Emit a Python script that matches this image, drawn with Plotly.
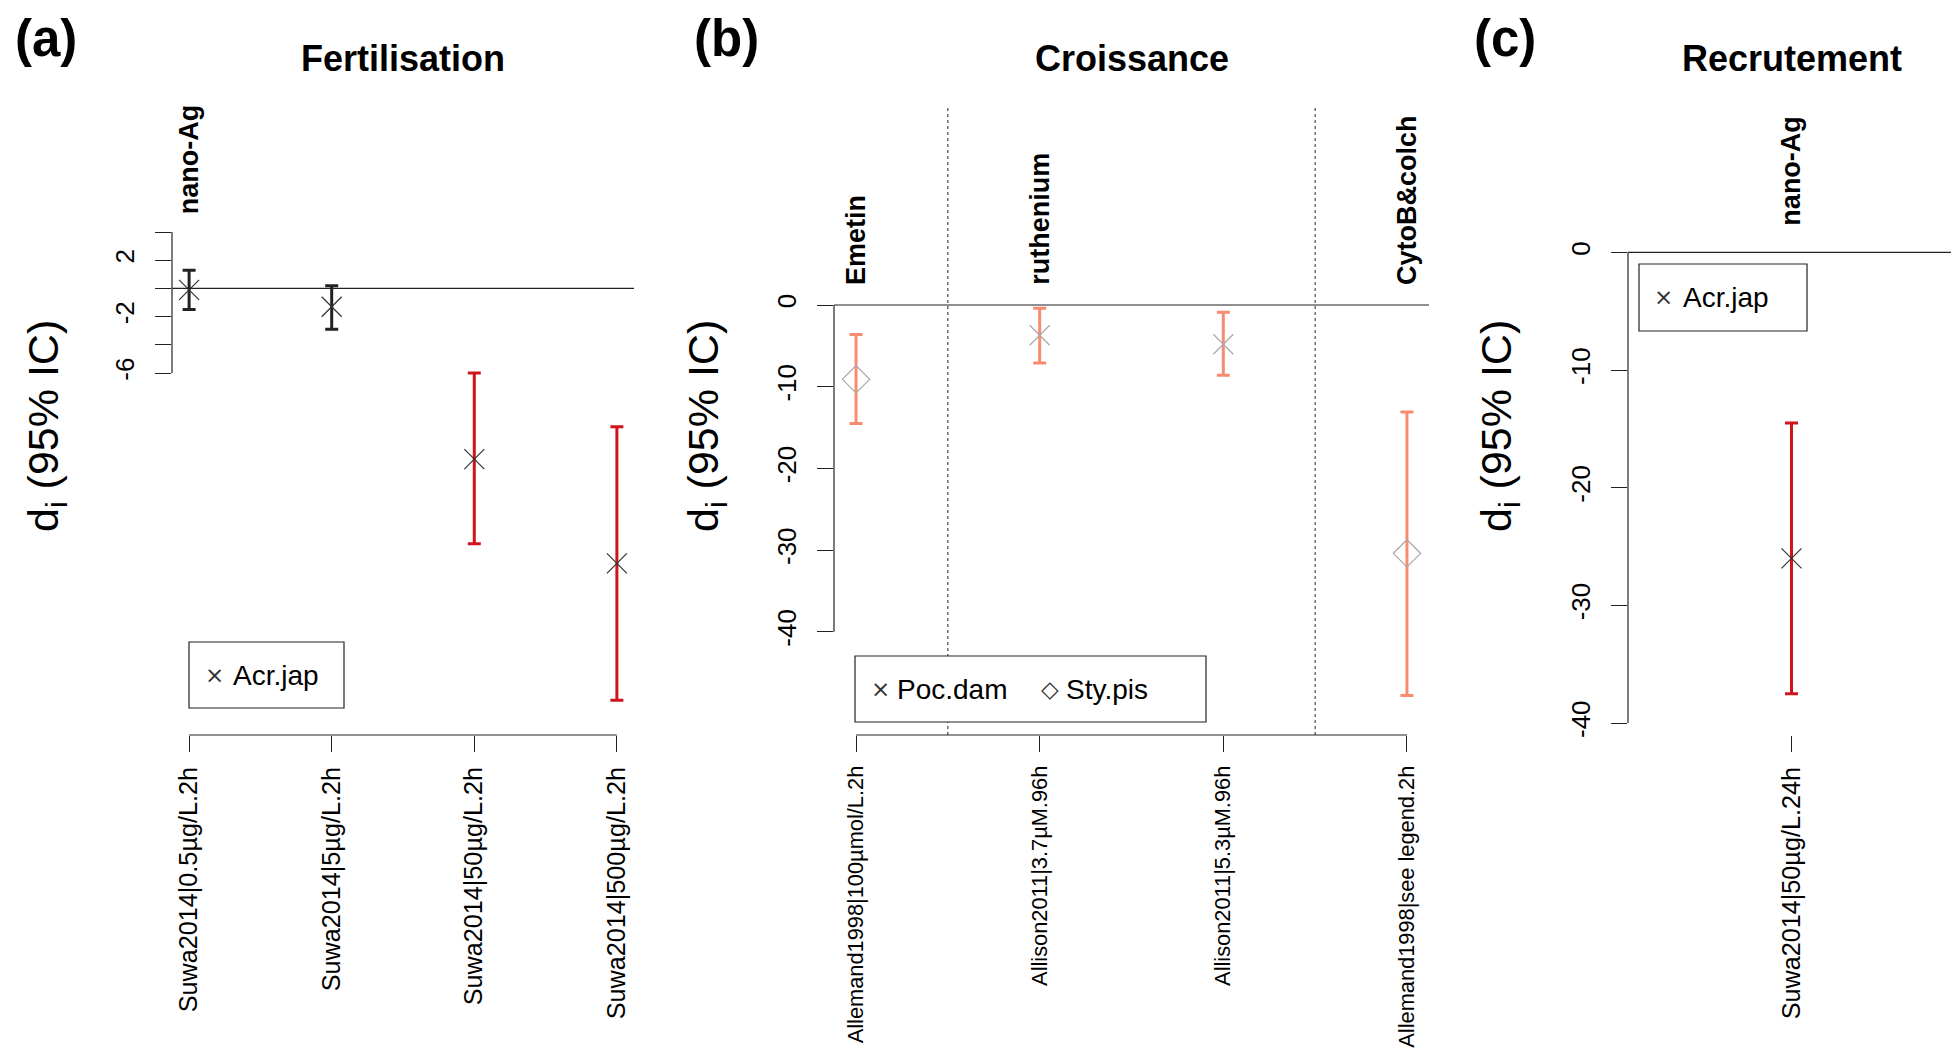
import plotly.graph_objects as go

W, H = 1959, 1051
PAGE_OFFSET = 8  # default body margin of the written page
FONT = "Liberation Sans, Arial, Helvetica, sans-serif"
INK = "#222222"
RED = "#D0141E"
SALMON = "#F98B72"

# (a) Fertilisation
fert_labels = ["Suwa2014|0.5µg/L.2h", "Suwa2014|5µg/L.2h",
               "Suwa2014|50µg/L.2h", "Suwa2014|500µg/L.2h"]
fert_treat = ["nano-Ag", "nano-Ag", "nano-Ag", "nano-Ag"]
fert_species = ["Acr.jap", "Acr.jap", "Acr.jap", "Acr.jap"]
fert_est = [-0.1, -1.3, -12.1, -19.5]
fert_lo = [-1.5, -2.9, -18.1, -29.2]
fert_hi = [1.3, 0.2, -6.0, -9.8]
fert_yticks = [4, 2, 0, -2, -4, -6]
fert_yticktext = ["", "2", "", "-2", "", "-6"]

# (b) Croissance
crois_labels = ["Allemand1998|100µmol/L.2h", "Allison2011|3.7µM.96h",
                "Allison2011|5.3µM.96h", "Allemand1998|see legend.2h"]
crois_treat = ["Emetin", "ruthenium", "ruthenium", "CytoB&colch"]
crois_species = ["Sty.pis", "Poc.dam", "Poc.dam", "Sty.pis"]
crois_est = [-9.1, -3.7, -4.8, -30.4]
crois_lo = [-14.5, -7.1, -8.6, -47.8]
crois_hi = [-3.6, -0.4, -0.9, -13.1]
crois_yticks = [0, -10, -20, -30, -40]
crois_yticktext = ["0", "-10", "-20", "-30", "-40"]

# (c) Recrutement
recr_labels = ["Suwa2014|50µg/L.24h"]
recr_treat = ["nano-Ag"]
recr_species = ["Acr.jap"]
recr_est = [-26.0]
recr_lo = [-37.5]
recr_hi = [-14.5]
recr_yticks = [0, -10, -20, -30, -40]
recr_yticktext = ["0", "-10", "-20", "-30", "-40"]

SYMBOLS = {"Acr.jap": "x-thin-open", "Poc.dam": "x-thin-open", "Sty.pis": "diamond-open"}
SIZES = {"x-thin-open": 20, "diamond-open": 21}


def px(x):
    return (x - PAGE_OFFSET) / W


def py(y):
    return 1 - (y - PAGE_OFFSET) / H


PLOT_TOP, PLOT_BOTTOM = 117, 735

panels = [
    dict(letter="(a)", letter_x=46, title="Fertilisation",
         labels=fert_labels, treat=fert_treat, species=fert_species,
         est=fert_est, lo=fert_lo, hi=fert_hi,
         yticks=fert_yticks, yticktext=fert_yticktext, yrange=[-31.67, 12.16],
         xdom=(172, 634), xpad=0.12, ytitle_x=46, treat_y=5.1, xfont=25.2,
         sig=RED, ns=INK, mcolor="#333333",
         legend=dict(box=(189, 642, 344, 708), items=[("×", 214, "Acr.jap", 231)])),
    dict(letter="(b)", letter_x=726, title="Croissance",
         labels=crois_labels, treat=crois_treat, species=crois_species,
         est=crois_est, lo=crois_lo, hi=crois_hi,
         yticks=crois_yticks, yticktext=crois_yticktext, yrange=[-52.63, 23.01],
         xdom=(834, 1429), xpad=0.12, ytitle_x=706, treat_y=2.2, xfont=21.8,
         sig=SALMON, ns=SALMON, mcolor="#a8a8a8",
         legend=dict(box=(855, 656, 1206, 722),
                     items=[("×", 880, "Poc.dam", 895), ("◇", 1050, "Sty.pis", 1064)])),
    dict(letter="(c)", letter_x=1505, title="Recrutement",
         labels=recr_labels, treat=recr_treat, species=recr_species,
         est=recr_est, lo=recr_lo, hi=recr_hi,
         yticks=recr_yticks, yticktext=recr_yticktext, yrange=[-41.01, 11.50],
         xdom=(1628, 1955), xpad=0.4, ytitle_x=1499, treat_y=2.1, xfont=25.2,
         sig=RED, ns=INK, mcolor="#333333",
         legend=dict(box=(1639, 264, 1807, 331), items=[("×", 1663, "Acr.jap", 1681)])),
]

fig = go.Figure()
shapes = []
annotations = []

for i, p in enumerate(panels, start=1):
    sfx = "" if i == 1 else str(i)
    xa, ya = "x" + sfx, "y" + sfx
    n = len(p["labels"])

    # one trace per colour / symbol combination
    groups = {}
    for k in range(n):
        col = p["sig"] if p["hi"][k] < 0 else p["ns"]
        sym = SYMBOLS[p["species"][k]]
        groups.setdefault((col, sym), []).append(k)
    for (col, sym), idx in groups.items():
        fig.add_trace(go.Scatter(
            x=[p["labels"][k] for k in idx],
            y=[p["est"][k] for k in idx],
            mode="markers",
            marker=dict(symbol=sym, size=SIZES[sym], color=p["mcolor"],
                        line=dict(width=1.2, color=p["mcolor"])),
            error_y=dict(type="data", symmetric=False,
                         array=[p["hi"][k] - p["est"][k] for k in idx],
                         arrayminus=[p["est"][k] - p["lo"][k] for k in idx],
                         color=col, thickness=3, width=6.5),
            xaxis=xa, yaxis=ya, showlegend=False, hoverinfo="skip",
        ))

    # labelled ticks are major ticks, unlabelled ones become minor ticks
    major = [(v, t) for v, t in zip(p["yticks"], p["yticktext"]) if t]
    minor = [v for v, t in zip(p["yticks"], p["yticktext"]) if not t]

    x0, x1 = p["xdom"]
    yaxis = dict(
        domain=[py(PLOT_BOTTOM), py(PLOT_TOP)], anchor=xa, range=p["yrange"],
        automargin=False,
        tickmode="array", tickvals=[v for v, _ in major], ticktext=[t for _, t in major],
        tickangle=-90, ticks="outside", ticklen=16, tickwidth=1, tickcolor=INK,
        ticklabelstandoff=11,
        tickfont=dict(family=FONT, size=26, color="black"),
        showline=False, showgrid=False, zeroline=False,
    )
    if minor:
        yaxis["minor"] = dict(tickmode="array", tickvals=minor, ticks="outside",
                              ticklen=16, tickwidth=1, tickcolor=INK, showgrid=False)
    fig.update_layout(**{
        "xaxis" + sfx: dict(
            domain=[px(x0), px(x1)], anchor=ya, type="category", automargin=False,
            categoryorder="array", categoryarray=p["labels"],
            range=[-p["xpad"], n - 1 + p["xpad"]],
            tickangle=-90, ticks="outside", ticklen=16, tickwidth=1, tickcolor=INK,
            ticklabelstandoff=5,
            tickfont=dict(family=FONT, size=p["xfont"], color="black"),
            showline=False, showgrid=False, zeroline=False,
        ),
        "yaxis" + sfx: yaxis,
    })

    # reference line at 0, axis spines
    shapes.append(dict(type="line", xref=xa + " domain", yref=ya, x0=0, x1=1, y0=0, y1=0,
                       line=dict(color=INK, width=1.2)))
    shapes.append(dict(type="line", xref=xa + " domain", yref=ya, x0=0, x1=0,
                       y0=min(p["yticks"]), y1=max(p["yticks"]),
                       line=dict(color=INK, width=1.2)))
    if n > 1:
        shapes.append(dict(type="line", xref=xa, yref=ya + " domain",
                           x0=p["labels"][0], x1=p["labels"][-1], y0=0, y1=0,
                           line=dict(color=INK, width=1.2)))

    # treatment separators and labels
    for k in range(n):
        if k == 0 or p["treat"][k] != p["treat"][k - 1]:
            if k > 0:
                shapes.append(dict(type="line", xref=xa, yref="paper",
                                   x0=k - 0.5, x1=k - 0.5, y0=py(PLOT_BOTTOM), y1=py(106),
                                   line=dict(color=INK, width=1, dash="dot")))
            annotations.append(dict(
                x=p["labels"][k], y=p["treat_y"], xref=xa, yref=ya,
                text=p["treat"][k], textangle=-90, showarrow=False,
                xanchor="center", yanchor="bottom",
                font=dict(family=FONT, size=27, color="black", weight="bold")))

    # legend box
    bx0, by0, bx1, by1 = p["legend"]["box"]
    shapes.append(dict(type="rect", xref="paper", yref="paper",
                       x0=px(bx0), x1=px(bx1), y0=py(by1), y1=py(by0),
                       fillcolor="white", line=dict(color=INK, width=1.2)))
    ymid = (by0 + by1) / 2
    for sym, sx, txt, tx in p["legend"]["items"]:
        annotations.append(dict(x=px(sx), y=py(ymid), xref="paper", yref="paper",
                                text=sym, showarrow=False, xanchor="center", yanchor="middle",
                                font=dict(family="DejaVu Sans, " + FONT, size=23, color="#333333")))
        annotations.append(dict(x=px(tx), y=py(ymid), xref="paper", yref="paper",
                                text=txt, showarrow=False, xanchor="left", yanchor="middle",
                                font=dict(family=FONT, size=28, color="black")))

    # panel letter, title, y title
    annotations.append(dict(x=px(p["letter_x"]), y=1, xref="paper", yref="paper",
                            text=p["letter"], showarrow=False, xanchor="center", yanchor="top",
                            font=dict(family=FONT, size=51, color="black", weight="bold")))
    annotations.append(dict(x=px((x0 + x1) / 2), y=py(58), xref="paper", yref="paper",
                            text=p["title"], showarrow=False, xanchor="center", yanchor="middle",
                            font=dict(family=FONT, size=36, color="black", weight="bold")))
    annotations.append(dict(x=px(p["ytitle_x"]), y=py(426), xref="paper", yref="paper",
                            text="d<sub>i</sub> (95% IC)", textangle=-90, showarrow=False,
                            xanchor="center", yanchor="middle",
                            font=dict(family=FONT, size=43, color="black")))

fig.update_layout(
    width=W, height=H,
    margin=dict(l=0, r=0, t=0, b=0, autoexpand=False),
    paper_bgcolor="white", plot_bgcolor="white",
    shapes=shapes, annotations=annotations,
    showlegend=False,
)

fig.write_html("out.html")
